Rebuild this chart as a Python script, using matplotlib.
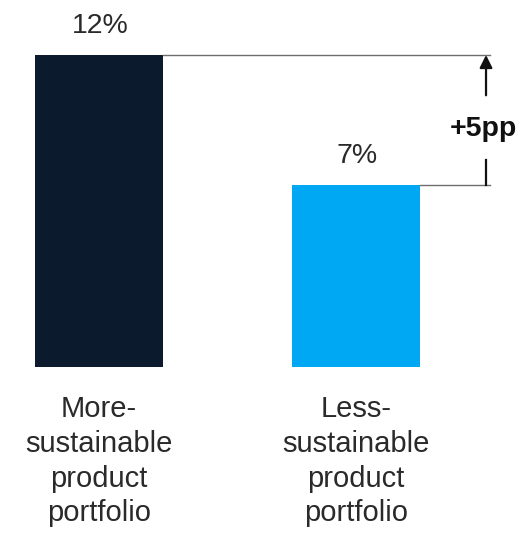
import matplotlib.pyplot as plt

categories = ["More-\nsustainable\nproduct\nportfolio", "Less-\nsustainable\nproduct\nportfolio"]
values = [12, 7]
value_labels = ["12%", "7%"]
colors = ["#0b1b2d", "#00a8f3"]
gap_label = "+5pp"

fig = plt.figure(figsize=(5.31, 5.36), dpi=100)
ax = fig.add_axes([0, 0, 1, 1])
ax.set_xlim(-0.385, 1.681)
ax.set_ylim(-6.5, 14.115)
ax.axis("off")

font = "Liberation Sans"
txt_color = "#2a2a2a"

x = list(range(len(values)))
ax.bar(x, values, width=0.5, color=colors)

for xi, v, lab in zip(x, values, value_labels):
    ax.annotate(lab, (xi, v), xytext=(1, 21), textcoords="offset points",
                ha="center", va="center", fontsize=20.5, family=font, color=txt_color)

for xi, cat in zip(x, categories):
    ax.annotate(cat, (xi, 0), xytext=(0, -20.5), textcoords="offset points",
                ha="center", va="top", fontsize=21, family=font, color=txt_color,
                linespacing=1.3)

# difference bracket
x_end = 1.521
x_arrow = 1.506
ax.plot([0.25, x_end], [values[0], values[0]], color="#6e6e6e", lw=1)
ax.plot([1.25, x_end], [values[1], values[1]], color="#6e6e6e", lw=1)
ax.annotate("", xy=(x_arrow, values[0]), xytext=(x_arrow, 10.45),
            arrowprops=dict(arrowstyle="-|>", color="#111111", lw=1.6,
                            mutation_scale=19, shrinkA=0, shrinkB=0))
ax.plot([x_arrow, x_arrow], [values[1], 7.95], color="#111111", lw=1.6)
ax.text(1.494, 9.15, gap_label, ha="center", va="center", fontsize=20.5,
        fontweight="bold", family=font, color="#111111")

fig.savefig("out.png", dpi=100)
